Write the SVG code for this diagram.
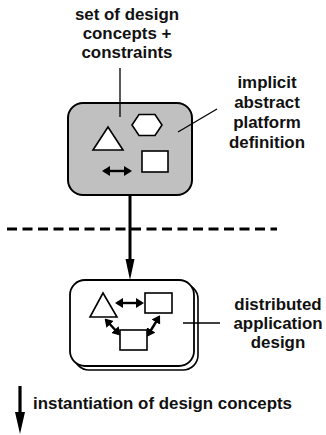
<svg xmlns="http://www.w3.org/2000/svg" width="326" height="435" viewBox="0 0 326 435">
  <style>
    .lbl { font-family: "Liberation Sans", Arial, sans-serif; font-weight: bold; font-size: 16.9px; fill: #111; text-anchor: middle; }
    .shape { fill: #fff; stroke: #000; stroke-width: 1.6; }
    .lead { stroke: #000; stroke-width: 1.3; fill: none; }
    .dbl { stroke: #000; stroke-width: 2.4; fill: none; marker-start: url(#tip); marker-end: url(#tip); }
  </style>
  <defs>
    <marker id="tip" viewBox="0 0 8 10" refX="6" refY="5" markerWidth="3.33" markerHeight="4.17" orient="auto-start-reverse" markerUnits="strokeWidth">
      <path d="M0,0 L8,5 L0,10 Z" fill="#000"/>
    </marker>
  </defs>

  <rect width="326" height="435" fill="#fff"/>

  <!-- platform definition box -->
  <g id="platform">
    <rect x="68" y="103" width="124" height="92" rx="15" fill="#c0c0c0" stroke="#000" stroke-width="2"/>
    <polygon class="shape" points="108,127 93,150 123,150"/>
    <polygon class="shape" points="139,114.5 155,114.5 162,125 155,135.5 139,135.5 132,125"/>
    <rect class="shape" x="142" y="151" width="26" height="21"/>
    <line class="dbl" x1="104" y1="171" x2="130" y2="171"/>
  </g>

  <!-- application design box (stacked) -->
  <g id="application">
    <rect x="74" y="284" width="124" height="86" rx="15" fill="#fff" stroke="#000" stroke-width="1.6"/>
    <rect x="70" y="280" width="124" height="86" rx="15" fill="#fff" stroke="#000" stroke-width="1.8"/>
    <polygon class="shape" points="103,293 90,317 117,317"/>
    <rect class="shape" x="145" y="293" width="27" height="20"/>
    <rect class="shape" x="120" y="330" width="27" height="20"/>
    <line class="dbl" x1="117" y1="303" x2="142" y2="303"/>
    <line class="dbl" x1="106" y1="320" x2="119" y2="334"/>
    <line class="dbl" x1="148" y1="335" x2="159" y2="317"/>
  </g>

  <!-- labels -->
  <g id="label-concepts">
    <text class="lbl" x="127" y="20">set of design</text>
    <text class="lbl" x="127" y="39">concepts +</text>
    <text class="lbl" x="127" y="58">constraints</text>
  </g>
  <g id="label-platform">
    <text class="lbl" x="267" y="88">implicit</text>
    <text class="lbl" x="267" y="108">abstract</text>
    <text class="lbl" x="267" y="128">platform</text>
    <text class="lbl" x="267" y="148">definition</text>
  </g>
  <g id="label-application">
    <text class="lbl" x="278" y="310">distributed</text>
    <text class="lbl" x="278" y="329">application</text>
    <text class="lbl" x="278" y="348">design</text>
  </g>
  <g id="legend">
    <line x1="20" y1="386" x2="20" y2="414" stroke="#000" stroke-width="3.2"/>
    <polygon points="15,412 25,412 20,434" fill="#000"/>
    <text class="lbl" x="33" y="409" style="text-anchor:start">instantiation of design concepts</text>
  </g>

  <!-- connectors -->
  <g id="connectors">
    <line class="lead" x1="120" y1="68" x2="120" y2="117"/>
    <line class="lead" x1="178" y1="132" x2="217" y2="109"/>
    <line class="lead" x1="183" y1="323" x2="220" y2="323"/>
    <line x1="130" y1="195" x2="130" y2="261" stroke="#000" stroke-width="3"/>
    <polygon points="125.5,259 134.5,259 130,280" fill="#000"/>
    <line x1="7" y1="229" x2="277" y2="229" stroke="#000" stroke-width="3" stroke-dasharray="10,5.5"/>
  </g>
</svg>
